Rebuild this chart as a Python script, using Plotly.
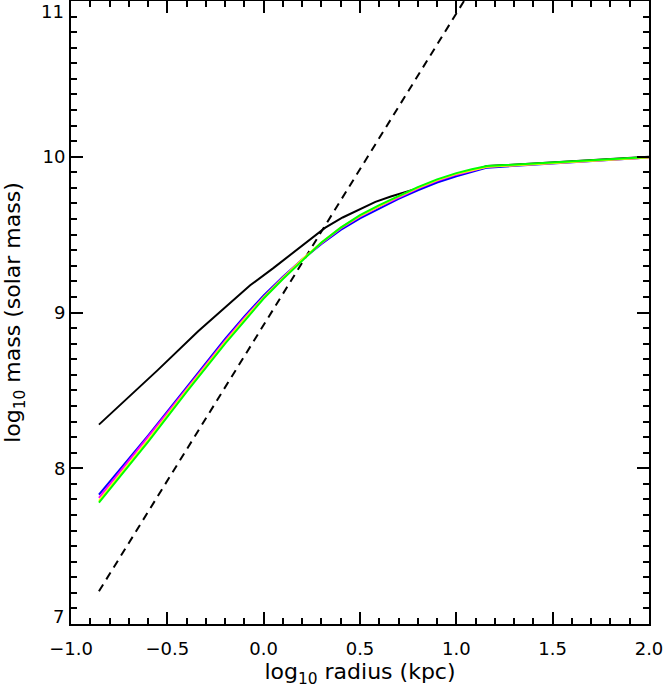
import plotly.graph_objects as go

# log10 radius grid of the coloured profiles
log_r = [-0.855, -0.6, -0.4, -0.2, -0.1, 0.0, 0.1, 0.2, 0.3, 0.4, 0.5, 0.6, 0.7, 0.8, 0.9, 1.0, 1.08, 1.16, 2.0]

m_blue = [7.83, 8.21, 8.52, 8.83, 8.975, 9.11, 9.23, 9.34, 9.44, 9.53, 9.605, 9.67, 9.73, 9.785, 9.835, 9.875, 9.905, 9.93, 9.995]
m_magenta = [7.81, 8.20, 8.51, 8.82, 8.965, 9.10, 9.225, 9.34, 9.445, 9.54, 9.615, 9.68, 9.74, 9.795, 9.845, 9.885, 9.91, 9.935, 9.995]
m_yellow = [7.79, 8.18, 8.50, 8.81, 8.955, 9.095, 9.22, 9.34, 9.45, 9.545, 9.62, 9.685, 9.745, 9.80, 9.85, 9.89, 9.915, 9.935, 9.995]
m_green = [7.78, 8.17, 8.49, 8.80, 8.945, 9.09, 9.215, 9.335, 9.45, 9.545, 9.625, 9.69, 9.75, 9.805, 9.855, 9.895, 9.92, 9.94, 9.998]

# black profile
log_r_black = [-0.855, -0.55, -0.34, -0.2, -0.07, 0.05, 0.14, 0.23, 0.32, 0.41, 0.5, 0.58, 0.66, 0.74, 0.82, 0.9, 1.0, 1.08, 1.16, 2.0]
m_black = [8.28, 8.63, 8.88, 9.035, 9.175, 9.285, 9.37, 9.46, 9.545, 9.61, 9.665, 9.71, 9.745, 9.775, 9.805, 9.845, 9.885, 9.91, 9.94, 10.0]

# dashed reference line
log_r_dash = [-0.855, 1.045]
m_dash = [7.21, 11.01]

FONT = "DejaVu Sans, sans-serif"

fig = go.Figure()
fig.add_trace(go.Scatter(x=log_r_dash, y=m_dash, mode="lines",
                         line=dict(color="black", width=2, dash="8px,6px")))
fig.add_trace(go.Scatter(x=log_r_black, y=m_black, mode="lines",
                         line=dict(color="black", width=2)))
for ys, col in [(m_blue, "#0000ff"), (m_magenta, "#ff00ff"),
                (m_yellow, "#ffff00"), (m_green, "#00ff00")]:
    fig.add_trace(go.Scatter(x=log_r, y=ys, mode="lines",
                             line=dict(color=col, width=2)))

fig.update_layout(
    width=665, height=689,
    margin=dict(l=71, r=16, t=1, b=65, autoexpand=False),
    paper_bgcolor="white", plot_bgcolor="white",
    showlegend=False,
    font=dict(family=FONT, size=18, color="black"),
)

fig.update_xaxes(
    range=[-1.0, 2.0], showgrid=False, zeroline=False,
    showline=True, linecolor="black", linewidth=2, mirror="ticks",
    ticks="inside", ticklen=12, tickwidth=2, tickcolor="black",
    tickvals=[-1.0, -0.5, 0.0, 0.5, 1.0, 1.5, 2.0],
    ticktext=["\u22121.0", "\u22120.5", "0.0", "0.5", "1.0", "1.5", "2.0"],
    ticklabelstandoff=7,
    minor=dict(dtick=0.1, ticks="inside", ticklen=6, tickwidth=2, tickcolor="black", showgrid=False),
    title=dict(text="log<sub>10</sub> radius (kpc)", standoff=6),
)

fig.update_yaxes(
    range=[7, 11], showgrid=False, zeroline=False,
    showline=True, linecolor="black", linewidth=2, mirror="ticks",
    ticks="inside", ticklen=12, tickwidth=2, tickcolor="black",
    tickvals=[8, 9, 10], ticktext=["8", "9", "10"],
    ticklabelstandoff=0,
    minor=dict(dtick=0.1, ticks="inside", ticklen=6, tickwidth=2, tickcolor="black", showgrid=False),
    title=dict(text="log<sub>10</sub> mass (solar mass)", standoff=18),
)

# end labels sit inside the axis span, as in the original
fig.add_annotation(x=0, xref="paper", xanchor="right", xshift=-5, y=11, yref="y",
                   yanchor="top", text="11", showarrow=False, yshift=2)
fig.add_annotation(x=0, xref="paper", xanchor="right", xshift=-5, y=7, yref="y",
                   yanchor="bottom", text="7", showarrow=False, yshift=-5)

# page body has a default 8px margin; drop it so the figure fills the window
fig.write_html("out.html", config={"displayModeBar": False},
               post_script="document.body.style.margin='0';")
